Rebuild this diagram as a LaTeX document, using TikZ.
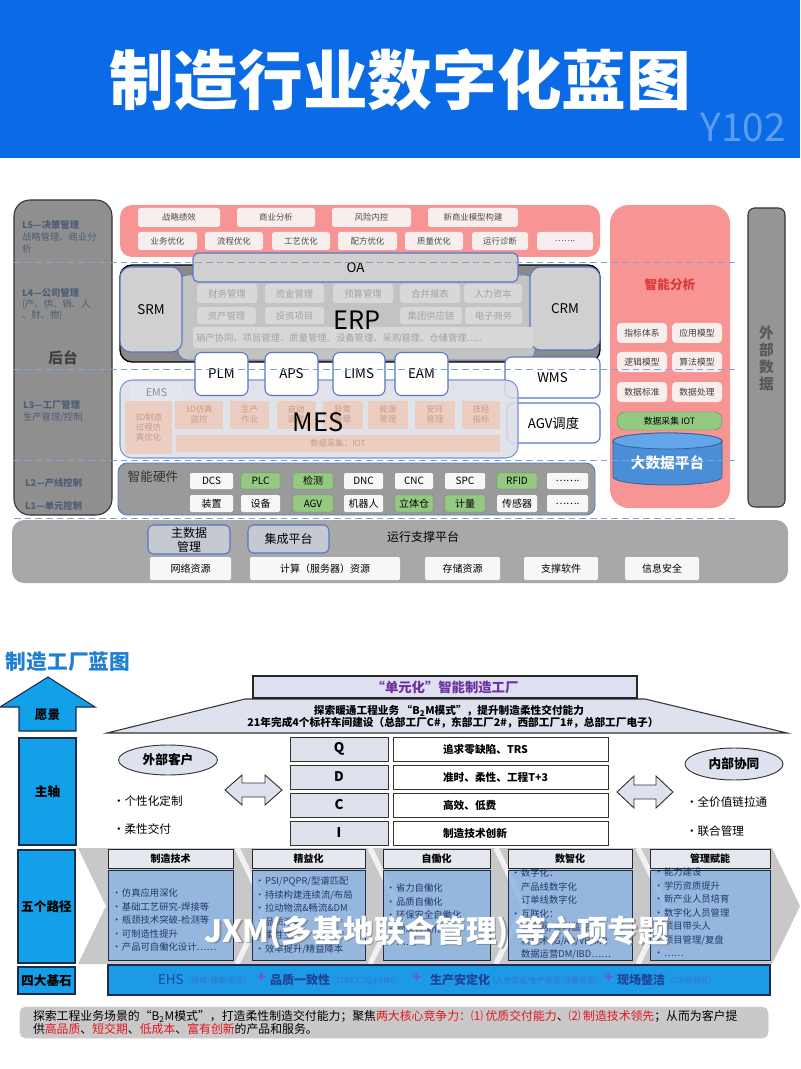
\documentclass[tikz,border=0pt]{standalone}
\usepackage{fontspec}
\setmainfont{Noto Sans CJK SC}
\usetikzlibrary{shapes.geometric}

\definecolor{titleblue}{HTML}{0B6AE6}
\definecolor{ycodeblue}{HTML}{5C9DF2}
\definecolor{colgray}{HTML}{8F8F8F}
\definecolor{laytext}{HTML}{4E5D78}
\definecolor{dashblue}{HTML}{7FA6CF}
\definecolor{pinkred}{HTML}{F79494}
\definecolor{pinkwhite}{HTML}{F8EEEE}
\definecolor{erpgray}{HTML}{8A8A8A}
\definecolor{erplight}{HTML}{C3C3C3}
\definecolor{sysblue}{HTML}{5577C4}
\definecolor{sysgray}{HTML}{D0D0D0}
\definecolor{subgray}{HTML}{D8D8D8}
\definecolor{subtext}{HTML}{A3A3A3}
\definecolor{mesgray}{HTML}{DBDEE5}
\definecolor{mesblue}{HTML}{7595D6}
\definecolor{peach}{HTML}{EBCDC2}
\definecolor{peachtext}{HTML}{C79B8B}
\definecolor{emsfill}{HTML}{E3E7EE}
\definecolor{hwgray}{HTML}{9A9A9A}
\definecolor{hwgreen}{HTML}{93C981}
\definecolor{cylblue}{HTML}{4A8ED8}
\definecolor{cyltop}{HTML}{62A5E8}
\definecolor{basegray}{HTML}{A8A8A8}
\definecolor{boxwhite}{HTML}{F7F7F7}
\definecolor{mdmfill}{HTML}{C5C9D1}
\definecolor{printblue}{HTML}{1F7FD0}
\definecolor{pillarblue}{HTML}{12A0E8}
\definecolor{navy}{HTML}{1D2B4F}
\definecolor{lavender}{HTML}{DCE0F0}
\definecolor{unitpurple}{HTML}{7030A0}
\definecolor{rooffill}{HTML}{DDE2EE}
\definecolor{qfill}{HTML}{DCE1EC}
\definecolor{chevgray}{HTML}{C8C8C8}
\definecolor{headfill}{HTML}{E5E8F0}
\definecolor{bodyblue}{HTML}{8DB5E3}
\definecolor{navytext}{HTML}{22396B}
\definecolor{baseblue}{HTML}{1C9AE6}
\definecolor{ehsblue}{HTML}{1F4496}
\definecolor{ehssmall}{HTML}{3F6FC2}
\definecolor{plusviolet}{HTML}{7B4FD6}
\definecolor{notegray}{HTML}{C9C9C9}
\definecolor{keyred}{HTML}{E8141E}
\definecolor{aired}{HTML}{D93A3A}

\newcommand{\fsz}[2]{\fontsize{#1pt}{#2pt}\selectfont}
\newcommand{\pbul}{\makebox[7.5pt][l]{•}}
\newcommand{\pind}{\hspace*{7.5pt}}

\tikzset{
  every node/.style={inner sep=0pt, outer sep=0pt},
  sz/.style 2 args={minimum width=#1*0.75pt, minimum height=#2*0.75pt},
  layercol/.style={draw=black!80, fill=colgray, rounded corners=12pt, line width=0.8pt},
  laytxt/.style={font=\fsz{7}{9}, text=laytext, align=left},
  layerdash/.style={draw=dashblue, dashed, dash pattern=on 5pt off 3pt, line width=0.7pt},
  pinkbg/.style={fill=pinkred, rounded corners=9pt},
  pinkbox/.style={fill=pinkwhite, rounded corners=2pt, font=\fsz{6.3}{7}, text=black!70},
  erpouter/.style={fill=erpgray, draw=black, line width=1pt, rounded corners=9pt},
  erpin/.style={fill=erplight, draw=sysblue, line width=0.6pt, rounded corners=7pt},
  sysbox/.style={fill=sysgray, draw=sysblue, line width=0.8pt, rounded corners=8pt, font=\fsz{10}{12}},
  oabox/.style={fill=sysgray, draw=sysblue, line width=0.8pt, rounded corners=4pt, font=\fsz{10}{12}},
  erpsub/.style={fill=subgray, rounded corners=2pt, font=\fsz{7}{8}, text=subtext},
  appbox/.style={fill=white, draw=sysblue, line width=0.8pt, rounded corners=5pt, font=\fsz{10}{12}},
  mesbg/.style={fill=mesgray, fill opacity=0.85, draw=mesblue, line width=0.8pt, rounded corners=9pt},
  mesbox/.style={fill=peach, font=\fsz{6.3}{7.6}, text=peachtext, align=center},
  hwbg/.style={fill=hwgray, draw=sysblue, line width=0.7pt, rounded corners=7pt},
  hwbox/.style={fill=boxwhite, rounded corners=1pt, font=\fsz{7.5}{9}},
  hwgbox/.style={hwbox, fill=hwgreen, draw=hwgreen!70!black, line width=0.3pt},
  aibox/.style={fill=pinkwhite, rounded corners=3pt, font=\fsz{6.6}{8}, text=black!75},
  extcol/.style={draw=black!80, fill=colgray!95!white, rounded corners=5pt, line width=0.8pt},
  supbox/.style={fill=boxwhite, rounded corners=1pt, font=\fsz{7.5}{9}},
  mdmbox/.style={fill=mdmfill, draw=sysblue, line width=0.8pt, rounded corners=4pt, font=\fsz{9}{10.5}, align=center},
  pillar/.style={fill=pillarblue, draw=navy, line width=0.8pt, font=\bfseries\fsz{9.5}{11}},
  qletter/.style={fill=qfill, draw=black!80, line width=0.7pt, font=\bfseries\fsz{10}{12}},
  qtext/.style={fill=white, draw=black!80, line width=0.7pt},
  qword/.style={font=\bfseries\fsz{8}{9.5}, anchor=west},
  partner/.style={ellipse, fill=rooffill, draw=black!80, line width=0.7pt, font=\bfseries\fsz{9.5}{11}},
  bullettxt/.style={font=\fsz{8.7}{10}, anchor=west},
  colhead/.style={fill=headfill, draw=black!85, line width=0.7pt, font=\bfseries\fsz{7.5}{9}},
  colbody/.style={fill=bodyblue, fill opacity=0.85, draw=navy, line width=0.7pt},
  coltxt/.style={font=\fsz{7}{10.1}, text=navytext, align=left, anchor=north west},
  basetxt/.style={font=\bfseries\fsz{9}{10}, text=ehsblue, anchor=west},
  basesmall/.style={font=\fsz{5.8}{6.5}, text=ehssmall, anchor=west},
  baseplus/.style={font=\bfseries\fsz{11}{12}, text=plusviolet, anchor=west},
}

\begin{document}
\begin{tikzpicture}[x=0.75pt,y=-0.75pt]
  \useasboundingbox (0,0) rectangle (800,1069);

  % title band
  \node[fill=titleblue, sz={800}{158}, anchor=north west] (band) at (0,0) {};
  \node[font=\bfseries\fsz{48.5}{54}, text=white] (title) at (400,80) {制造行业数字化蓝图};
  \node[font=\fsz{29}{32}, text=ycodeblue] (ycode) at (743,128) {Y102};

  % layer column
  \node[layercol, sz={98}{315}] (layers) at (63,357.5) {};
  \node[laytxt, anchor=north west] (l5) at (22,220) {\textbf{L5—决策管理}\\战略管理、商业分\\析};
  \node[laytxt, anchor=north west, font=\fsz{7}{8.3}] (l4) at (22,288) {\textbf{L4—公司管理}\\(产、供、销、人\\、财、物)};
  \node[font=\bfseries\fsz{11}{12}, text=black!75] (back) at (63,358) {后台};
  \node[laytxt, anchor=north west] (l3) at (23,400) {\textbf{L3—工厂管理}\\生产管理/控制};
  \node[laytxt, anchor=west, font=\bfseries\fsz{7}{9}] (l2) at (25,483) {L2—产线控制};
  \node[laytxt, anchor=west, font=\bfseries\fsz{7}{9}] (l1) at (25,506) {L1—单元控制};

  % decision layer
  \node[pinkbg, sz={480}{52}] (decide) at (360,231) {};
  \node[pinkbox, sz={82}{19}] (zljx) at (179,217.5) {战略绩效};
  \node[pinkbox, sz={78}{19}] (syfx) at (276,217.5) {商业分析};
  \node[pinkbox, sz={79}{19}] (fxnk) at (371.5,217.5) {风险内控};
  \node[pinkbox, sz={90}{19}] (xsy) at (473,217.5) {新商业模型构建};
  \node[pinkbox, sz={59}{18}] (ywyh) at (167.5,241) {业务优化};
  \node[pinkbox, sz={58}{18}] (lcyh) at (234,241) {流程优化};
  \node[pinkbox, sz={58}{18}] (gyyh) at (301,241) {工艺优化};
  \node[pinkbox, sz={59}{18}] (pfyh) at (367.5,241) {配方优化};
  \node[pinkbox, sz={58}{18}] (zlyh) at (434,241) {质量优化};
  \node[pinkbox, sz={56}{18}] (yxzd) at (500,241) {运行诊断};
  \node[pinkbox, sz={56}{18}] (more1) at (565,241) {…….};

  % ERP layer
  \node[erpouter, sz={480}{97}] (erpblk) at (360,313.5) {};
  \node[erpin, sz={357}{85}] (erp) at (356.5,317.5) {};
  \node[sysbox, sz={62}{85}] (srm) at (151,309.5) {SRM};
  \node[sysbox, sz={70}{83}] (crm) at (565,308.5) {CRM};
  \node[erpsub, sz={60}{19}] (cwgl) at (227,293.5) {财务管理};
  \node[erpsub, sz={59}{19}] (zjgl) at (294.5,293.5) {资金管理};
  \node[erpsub, sz={60}{19}] (ysgl) at (363,293.5) {预算管理};
  \node[erpsub, sz={60}{19}] (hbbb) at (430,293.5) {合并报表};
  \node[erpsub, sz={58}{19}] (rlzb) at (493,293.5) {人力资本};
  \node[erpsub, sz={59}{17}] (zcgl) at (226.5,315.5) {资产管理};
  \node[erpsub, sz={59}{17}] (tzxm) at (294.5,315.5) {投资项目};
  \node[erpsub, sz={62}{17}] (jtgyl) at (431,315.5) {集团供应链};
  \node[erpsub, sz={57}{17}] (dzsw) at (493.5,315.5) {电子商务};
  \node[erpsub, sz={340}{21}] (erpbar) at (363,337.5) {};
  \node[font=\fsz{7}{8}, text=subtext, anchor=west] (erpbartxt) at (196,337.5) {销产协同、项目管理、质量管理、设备管理、采购管理、仓储管理…..};
  \node[font=\fsz{19}{22}] (erptxt) at (357,320) {ERP};
  \node[oabox, sz={325}{29}] (oa) at (355.5,267.5) {OA};

  % warehouse and AGV
  \node[appbox, sz={95}{41}] (wms) at (552.5,377.5) {WMS};
  \node[appbox, sz={93}{40}] (agv) at (553.5,423) {AGV调度};

  % MES layer
  \node[mesbg, sz={398}{78}] (mes) at (319,419) {};
  \node[fill=emsfill, rounded corners=3pt, sz={53}{20}, font=\fsz{8}{9}, text=black!45] (ems) at (156.5,393) {EMS};
  \node[mesbox, sz={47}{53}] (sim3d) at (148.5,427.5) {3D制造\\过程仿\\真优化};
  \node[mesbox, sz={48}{28}] (jk3d) at (199,414.5) {3D仿真\\监控};
  \node[mesbox, sz={39}{28}] (sczy) at (249.5,414.5) {生产\\作业};
  \node[mesbox, sz={39}{28}] (zdtd) at (296,414.5) {自动\\调度};
  \node[mesbox, sz={40}{28}] (ycgl) at (342.5,414.5) {异常\\管理};
  \node[mesbox, sz={40}{28}] (nygl) at (388,414.5) {能源\\管理};
  \node[mesbox, sz={40}{28}] (ahgl) at (435,414.5) {安环\\管理};
  \node[mesbox, sz={38}{28}] (jjzb) at (481,414.5) {技经\\指标};
  \node[mesbox, sz={324}{17}] (iot) at (338,443.5) {数据采集：IOT};
  \node[font=\fsz{19}{22}] (mestxt) at (318,422) {MES};

  % application boxes
  \node[appbox, sz={53}{43}] (plm) at (221.5,374) {PLM};
  \node[appbox, sz={53}{43}] (aps) at (291.5,374) {APS};
  \node[appbox, sz={52}{43}] (lims) at (359,374) {LIMS};
  \node[appbox, sz={53}{43}] (eam) at (421.5,374) {EAM};

  % smart hardware
  \node[hwbg, sz={477}{52}] (hw) at (356.5,489) {};
  \node[font=\fsz{9.5}{11}, text=black!80] (hwtxt) at (153,477) {智能硬件};
  \node[hwbox, sz={43}{16}] (dcs) at (211.5,481) {DCS};
  \node[hwgbox, sz={39}{16}] (plc) at (260.5,481) {PLC};
  \node[hwgbox, sz={40}{16}] (jc) at (313,481) {检测};
  \node[hwbox, sz={39}{16}] (dnc) at (363.5,481) {DNC};
  \node[hwbox, sz={38}{16}] (cnc) at (414,481) {CNC};
  \node[hwbox, sz={40}{16}] (spc) at (465,481) {SPC};
  \node[hwgbox, sz={40}{16}] (rfid) at (517,481) {RFID};
  \node[hwbox, sz={41}{16}] (more2) at (567.5,481) {…….};
  \node[hwbox, sz={43}{17}] (zz) at (211.5,503.5) {装置};
  \node[hwbox, sz={39}{17}] (sb) at (260.5,503.5) {设备};
  \node[hwgbox, sz={40}{17}] (agvhw) at (313,503.5) {AGV};
  \node[hwbox, sz={39}{17}] (jqr) at (363.5,503.5) {机器人};
  \node[hwgbox, sz={38}{17}] (ltc) at (414,503.5) {立体仓};
  \node[hwgbox, sz={40}{17}] (jl) at (465,503.5) {计量};
  \node[hwbox, sz={40}{17}] (cgq) at (517,503.5) {传感器};
  \node[hwbox, sz={41}{17}] (more3) at (567.5,503.5) {…….};

  % smart analysis
  \node[pinkbg, rounded corners=14pt, sz={120}{303}] (ai) at (670,356.5) {};
  \node[font=\bfseries\fsz{9.5}{11}, text=aired] (aitxt) at (670,285) {智能分析};
  \node[aibox, sz={50}{20}] (zbtx) at (642,333) {指标体系};
  \node[aibox, sz={50}{20}] (yymx) at (697,333) {应用模型};
  \node[aibox, sz={50}{20}] (ljmx) at (642,362) {逻辑模型};
  \node[aibox, sz={50}{20}] (sfmx) at (697,362) {算法模型};
  \node[aibox, sz={50}{20}] (sjbz) at (642,392) {数据标准};
  \node[aibox, sz={50}{20}] (sjcl) at (697,392) {数据处理};
  \node[hwgbox, rounded corners=6pt, sz={105}{18}, font=\fsz{6.6}{8}] (aiiot) at (669.5,421) {数据采集 IOT};
  \path[fill=cylblue, draw=cylblue!70!black, line width=0.6pt] (613,441) -- (613,477)
    arc[start angle=180, end angle=360, x radius=40.9pt, y radius=6pt] -- (722,441)
    arc[start angle=0, end angle=180, x radius=40.9pt, y radius=6pt] -- cycle;
  \draw[fill=cyltop, draw=cylblue!70!black, line width=0.6pt] (667.5,441) ellipse[x radius=40.9pt, y radius=6pt];
  \node[font=\bfseries\fsz{11}{12}, text=white] (bigdata) at (667.5,463) {大数据平台};

  % external data
  \node[extcol, sz={37}{299}] (ext) at (766.5,357.5) {};
  \node[font=\bfseries\fsz{11}{12.75}, text=black!65, align=center] (exttxt) at (766.5,358) {外\\部\\数\\据};

  % support platform
  \node[fill=basegray, rounded corners=9pt, sz={776}{63}] (support) at (400,551.5) {};
  \node[mdmbox, sz={82}{29}] (mdm) at (189,539.5) {主数据\\管理};
  \node[mdmbox, sz={81}{28}] (jcpt) at (288.5,539) {集成平台};
  \node[font=\fsz{9}{10.5}] (yxzc) at (423,537) {运行支撑平台};
  \node[supbox, sz={81}{23}] (wlzy) at (190.5,568.5) {网络资源};
  \node[supbox, sz={150}{23}] (jszy) at (325,568.5) {计算（服务器）资源};
  \node[supbox, sz={75}{23}] (cczy) at (462.5,568.5) {存储资源};
  \node[supbox, sz={74}{23}] (zcrj) at (561,568.5) {支撑软件};
  \node[supbox, sz={74}{23}] (xxaq) at (662,568.5) {信息安全};

  % layer dividers
  \draw[layerdash] (14,262) -- (737,262);
  \draw[layerdash] (14,369) -- (737,369);
  \draw[layerdash] (14,460) -- (737,460);
  \draw[layerdash] (14,518) -- (737,518);

  % factory blueprint
  \node[font=\bfseries\fsz{15.5}{17}, text=printblue, anchor=west] (fbp) at (6,662) {制造工厂蓝图};

  % pillar column
  \draw[fill=pillarblue, draw=navy, line width=0.8pt] (0,707) -- (48,677) -- (95,707) -- (76,707)
    -- (76,731) -- (19,731) -- (19,707) -- cycle;
  \node[font=\bfseries\fsz{9.5}{11}] (vision) at (47.5,715) {愿景};
  \node[pillar, sz={57}{107}] (axis) at (47.5,791.5) {主轴};
  \node[pillar, sz={57}{113}] (paths) at (46.5,906.5) {五个路径};
  \node[pillar, sz={57}{27}] (stones) at (46.5,980.5) {四大基石};

  % unit factory roof
  \draw[fill=rooffill, draw=black!80, line width=0.8pt] (107,733) -- (245,699) -- (645,699) -- (787,733) -- cycle;
  \node[fill=lavender, draw=black!85, line width=0.8pt, sz={384}{22}, font=\bfseries\fsz{10}{12}, text=unitpurple] (unit) at (445,687) {“单元化”智能制造工厂};
  \node[font=\bfseries\fsz{8}{9.5}] (roof1) at (449,711) {探索暖通工程业务 “B\textsubscript{2}M模式”，提升制造柔性交付能力};
  \node[font=\bfseries\fsz{8}{9.5}] (roof2) at (453,722.5) {21年完成4个标杆车间建设（总部工厂C\#，东部工厂2\#，西部工厂1\#，总部工厂电子）};

  % QDCI
  \node[qletter, sz={98}{24}] (q) at (339,749) {Q};
  \node[qletter, sz={98}{24}] (d) at (339,777) {D};
  \node[qletter, sz={98}{24}] (c) at (339,805) {C};
  \node[qletter, sz={98}{24}] (i) at (339,833) {I};
  \node[qtext, sz={215}{24}] (qt) at (500.5,749) {};
  \node[qtext, sz={215}{24}] (dt) at (500.5,777) {};
  \node[qtext, sz={215}{24}] (ct) at (500.5,805) {};
  \node[qtext, sz={215}{24}] (it) at (500.5,833) {};
  \node[qword] (qw) at (443,749) {追求零缺陷、TRS};
  \node[qword] (dw) at (443,777) {准时、柔性、工程T+3};
  \node[qword] (cw) at (443,805) {高效、低费};
  \node[qword] (iw) at (443,833) {制造技术创新};

  % customers and partners
  \node[partner, sz={99}{30}] (wbkh) at (168,760) {外部客户};
  \node[partner, sz={98}{32}] (nbxt) at (734,764) {内部协同};
  \draw[fill=rooffill, draw=black!80, line width=0.7pt] (225,790) -- (242,775) -- (242,783) -- (265,783)
    -- (265,775) -- (282,790) -- (265,805) -- (265,797) -- (242,797) -- (242,805) -- cycle;
  \draw[fill=rooffill, draw=black!80, line width=0.7pt] (617,792) -- (634,776) -- (634,785) -- (656,785)
    -- (656,776) -- (673,792) -- (656,808) -- (656,799) -- (634,799) -- (634,808) -- cycle;
  \node[bullettxt] (gxh) at (113,801) {•个性化定制};
  \node[bullettxt] (rxjf) at (113,829) {•柔性交付};
  \node[bullettxt] (qjz) at (686,802) {•全价值链拉通};
  \node[bullettxt] (lhgl) at (686,831) {•联合管理};

  % five paths
  \fill[chevgray] (78,848) -- (772,848) -- (800,906) -- (772,964) -- (78,964) -- (106,906) -- cycle;
  \draw[white, opacity=0.75, line width=4pt] (237,848) -- (265,906) -- (237,964);
  \draw[white, opacity=0.75, line width=4pt] (370,848) -- (398,906) -- (370,964);
  \draw[white, opacity=0.75, line width=4pt] (496,848) -- (524,906) -- (496,964);
  \draw[white, opacity=0.75, line width=4pt] (638,848) -- (666,906) -- (638,964);
  \node[colhead, sz={125}{19}] (zzjs) at (170.5,858.5) {制造技术};
  \node[colhead, sz={113}{19}] (jyh) at (308.5,858.5) {精益化};
  \node[colhead, sz={107}{19}] (zdh) at (436.5,858.5) {自働化};
  \node[colhead, sz={124}{19}] (szh) at (570,858.5) {数智化};
  \node[colhead, sz={120}{19}] (glfn) at (710,858.5) {管理赋能};
  \node[colbody, sz={125}{90}] (zzjsb) at (170.5,915) {};
  \node[colbody, sz={113}{90}] (jyhb) at (308.5,915) {};
  \node[colbody, sz={107}{90}] (zdhb) at (436.5,915) {};
  \node[colbody, sz={124}{90}] (szhb) at (570,915) {};
  \node[colbody, sz={120}{90}] (glfnb) at (710,915) {};
  \node[coltxt] (zzjst) at (112,889) {\pbul 仿真应用深化\\\pbul 基础工艺研究-焊接等\\\pbul 瓶颈技术突破-检测等\\\pbul 可制造性提升\\\pbul 产品可自働化设计……};
  \node[coltxt] (jyht) at (255,877) {\pbul PSI/PQPR/型谱匹配\\\pbul 持续构建连续流/布局\\\pbul 拉动物流\&畅流\&DM\\\pbul 品质改善\\\pbul 柔性生产\\\pbul 效率提升/精益降本};
  \node[coltxt] (zdht) at (386,884) {\pbul 省力自働化\\\pbul 品质自働化\\\pbul 环保安全自働化\\\pbul 物流自働化\\\pbul ……};
  \node[coltxt] (szht) at (511,869) {\pbul 数字化：\\\pind 产品线数字化\\\pind 订单线数字化\\\pbul 互联化：\\\pind 物联网/实时监控\\\pind 新技术5G/AR/VR/MR\\\pind 数据运营DM/IBD……};
  \node[coltxt] (glfnt) at (654,868) {\pbul 能力建设\\\pbul 学历资质提升\\\pbul 新产业人员培育\\\pbul 数字化人员管理\\\pbul 项目带头人\\\pbul 项目管理/复盘\\\pbul ……};
  \node[font=\bfseries\fsz{23}{26}, text=black!55, opacity=0.6] (wmshadow) at (438.5,933.5) {JXM(多基地联合管理) 等六项专题};
  \node[font=\bfseries\fsz{23}{26}, text=white] (wm) at (437,932) {JXM(多基地联合管理) 等六项专题};

  % four cornerstones
  \node[fill=baseblue, draw=navy, line width=0.8pt, sz={662}{30}] (base) at (439,980) {};
  \node[basetxt, font=\fsz{10}{11}] (ehs) at (158,980) {EHS};
  \node[basesmall] (ehsn) at (184,981) {（环境/健康/安全）};
  \node[baseplus] (plus1) at (257,978) {+};
  \node[basetxt] (pzyz) at (270,980) {品质一致性};
  \node[basesmall] (pzyzn) at (332,981) {（TRS/CTQ/FEMA）};
  \node[baseplus] (plus2) at (412,978) {+};
  \node[basetxt] (scad) at (430,980) {生产安定化};
  \node[basesmall] (scadn) at (488,981) {（人员安定/生产安定/设备安定）};
  \node[baseplus] (plus3) at (604,978) {+};
  \node[basetxt] (xczj) at (617,980) {现场整洁};
  \node[basesmall] (xczjn) at (666,981) {（5S/目视化）};

  % summary note
  \node[fill=notegray, draw=black!20, rounded corners=4pt, sz={748}{31}] (note) at (394,1022.5) {};
  \node[font=\fsz{8.9}{10.2}, align=left, anchor=west] (notetxt) at (33,1022.5) {探索工程业务场景的“B\textsubscript{2}M模式”，打造柔性制造交付能力；聚焦\textcolor{keyred}{两大核心竞争力：⑴ 优质交付能力}、\textcolor{keyred}{⑵ 制造技术领先}；从而为客户提\\供\textcolor{keyred}{高品质}、\textcolor{keyred}{短交期}、\textcolor{keyred}{低成本}、\textcolor{keyred}{富有创新}的产品和服务。};
\end{tikzpicture}
\end{document}
